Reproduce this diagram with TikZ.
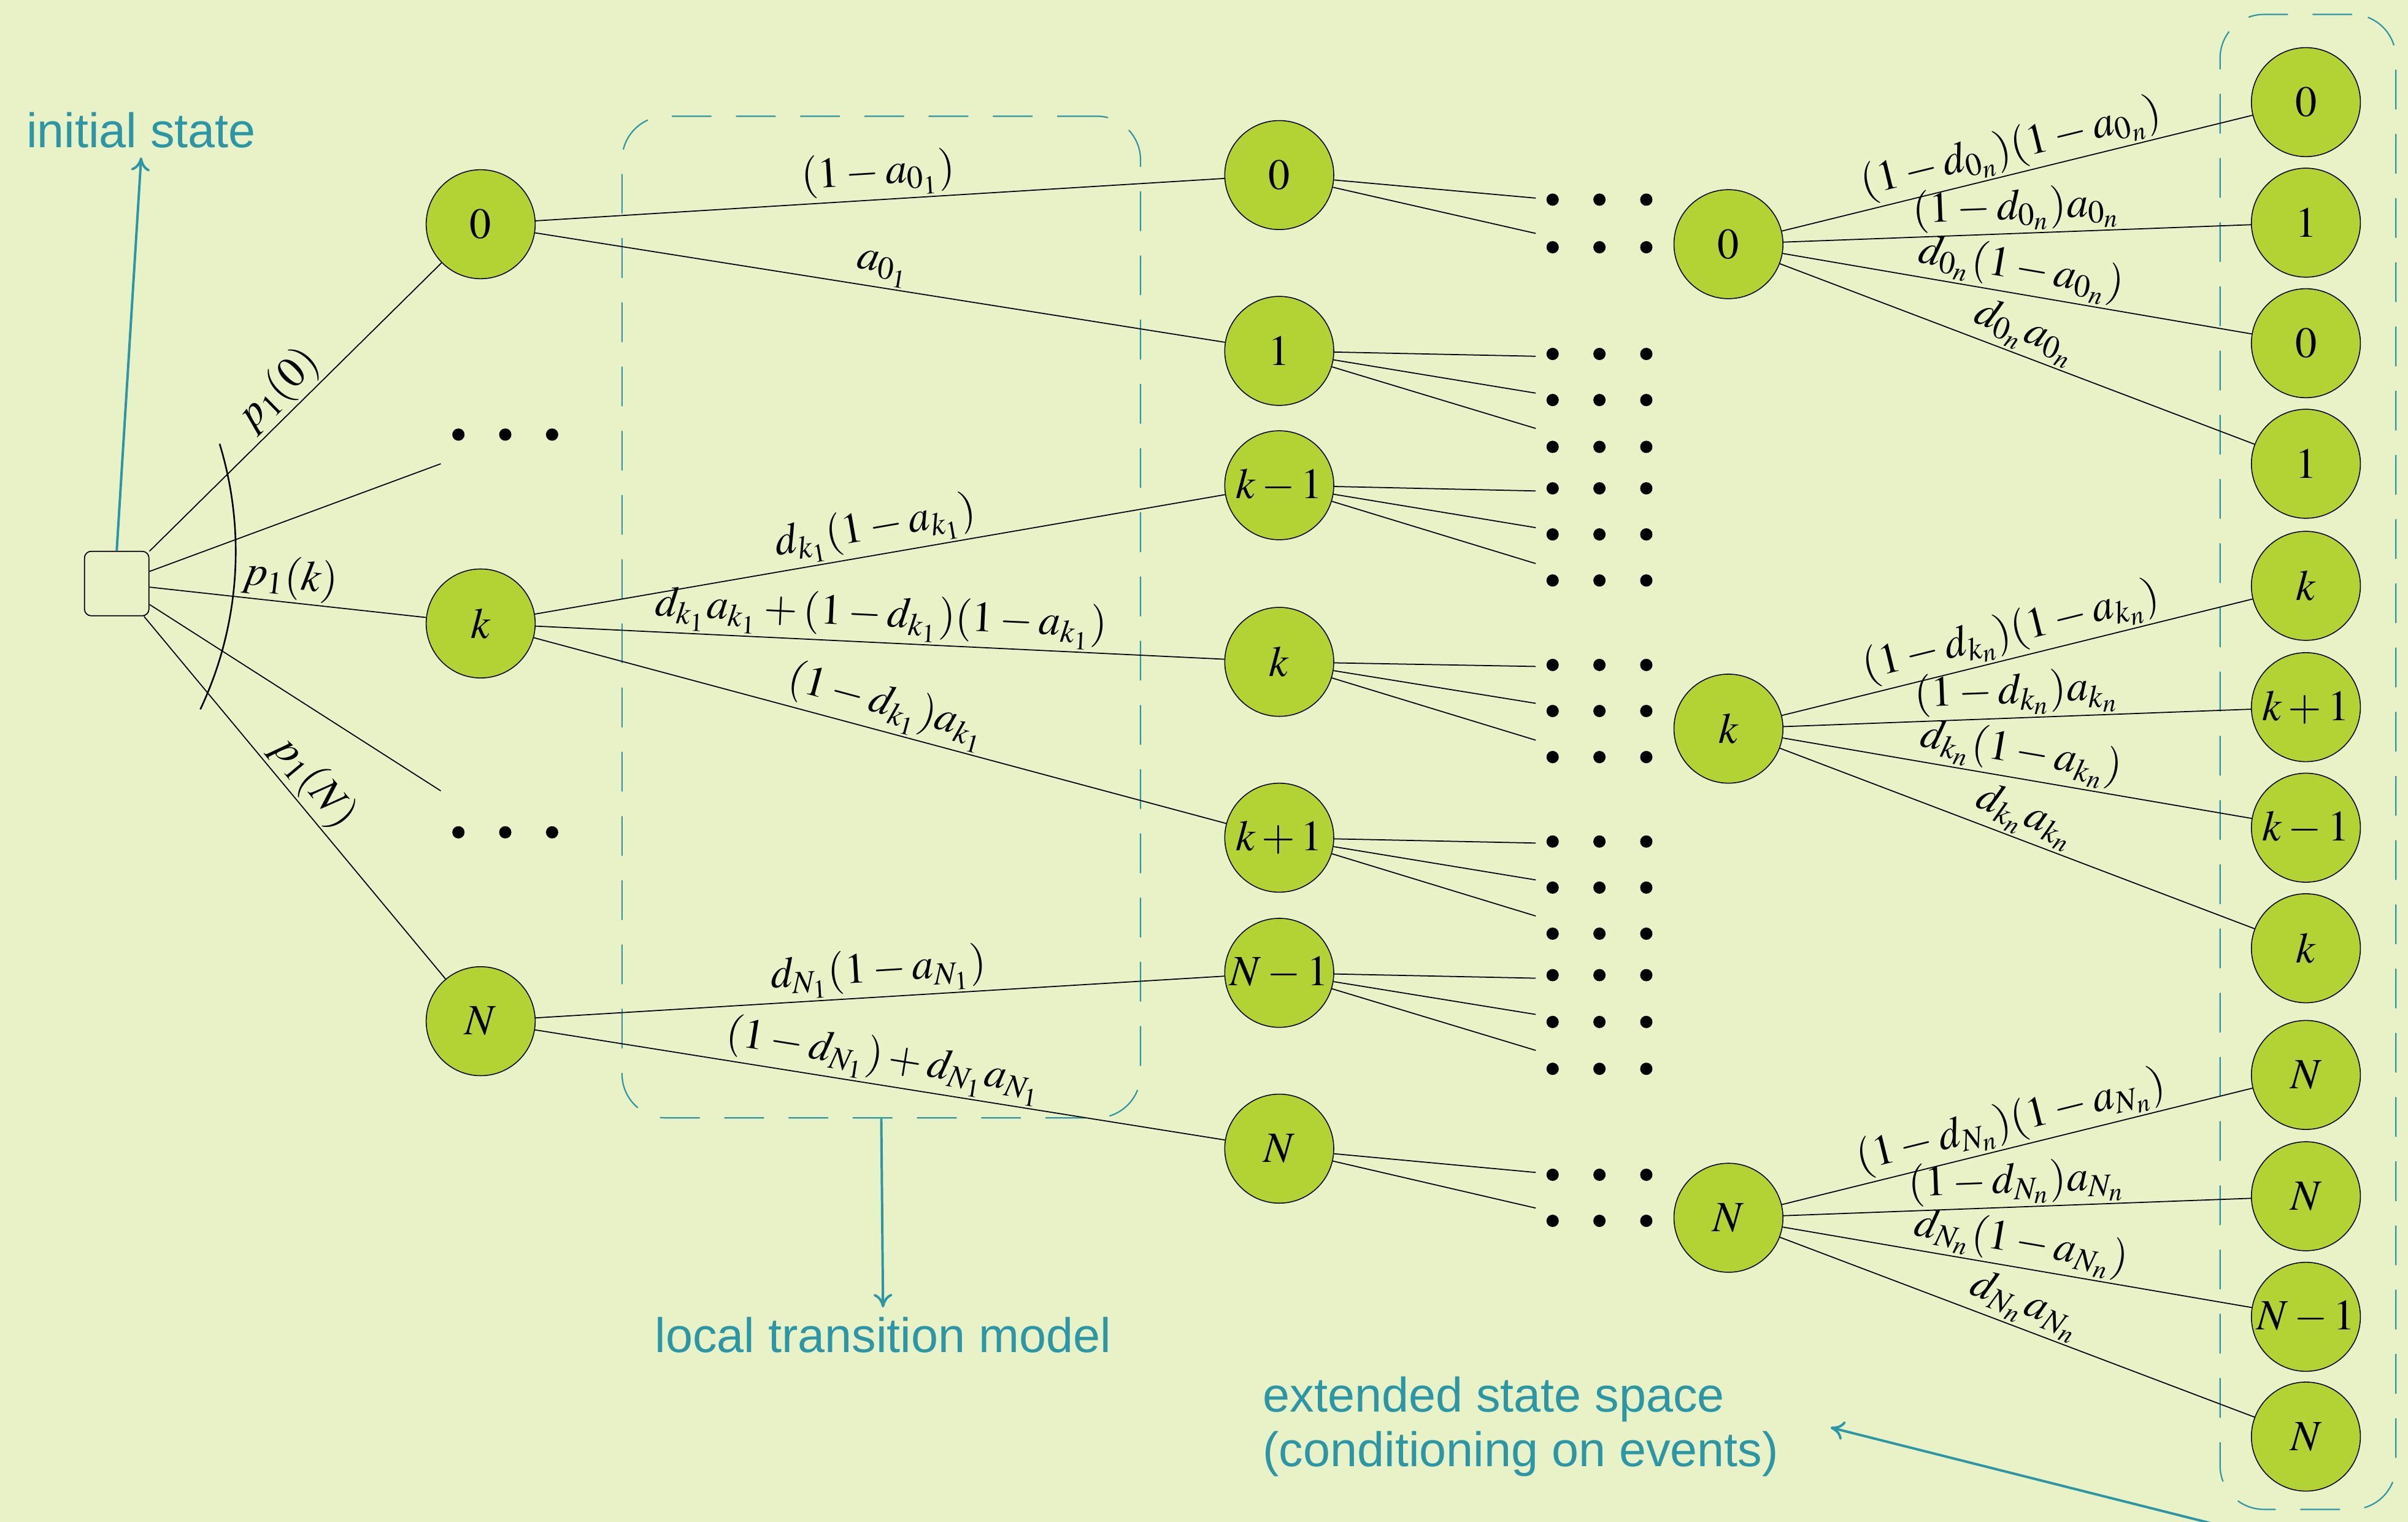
\documentclass[tikz,border=0pt]{standalone}
\usepackage{mathptmx}
\usepackage[no-math]{fontspec}
\newfontfamily\notefont{Liberation Sans}
\usetikzlibrary{arrows.meta}
\definecolor{bgc}{HTML}{E9F2C6}
\definecolor{nodec}{HTML}{B3D334}
\definecolor{tealc}{HTML}{2A96A6}
\begin{document}
\begin{tikzpicture}[x=0.02cm,y=-0.02cm,
  every node/.style={font=\fontsize{16}{19}\selectfont},
  st/.style={circle,draw=black,line width=0.35pt,fill=nodec,minimum size=1.42cm,inner sep=0pt},
  conn/.style={draw=black,line width=0.4pt},
  lbl/.style={midway,above,sloped,inner sep=0.8pt},
  notetxt/.style={text=tealc,font=\notefont\fontsize{18}{20.4}\selectfont},
  grp/.style={draw=tealc,line width=0.5pt,dash pattern=on 14.7pt off 9.1pt,rounded corners=0.57cm,inner sep=0pt},
  ptr/.style={draw=tealc,line width=0.9pt,-{To[length=5pt,width=7pt]}},
  initbox/.style={draw=black,line width=0.4pt,rounded corners=2.5pt,minimum size=0.84cm,inner sep=0pt}
]
\fill[bgc] (0,0) rectangle (1568,991);
\useasboundingbox (0,0) rectangle (1568,991);

% group boxes
\node[grp, minimum width=6.754cm, minimum height=13.048cm] (locbox) at (573.85,401.8) {};
\node[grp, minimum width=2.29cm, minimum height=19.474cm] (extbox) at (1502.85,496.15) {};

% initial state
\node[initbox] (init) at (76,380) {};
\node[notetxt, anchor=base west] (inittxt) at (11,96) {initial state};
\draw[ptr] (init.north) -- (inittxt.south);

% level 1
\node[st] (a0) at (313,146) {$0$};
\node[st] (ak) at (313,406) {$k$};
\node[st] (aN) at (313,665) {$N$};
\coordinate (d1) at (287,302);
\coordinate (d2) at (287,515);
\foreach \x in {298.5,329,359.5} {
  \fill (\x,283) circle[radius=0.08cm];
  \fill (\x,542) circle[radius=0.08cm];
}

\draw[conn] (init) -- node[lbl] {$p_1(0)$} (a0);
\draw[conn] (init) -- (d1);
\draw[conn] (init) -- node[lbl] {$p_1(k)$} (ak);
\draw[conn] (init) -- (d2);
\draw[conn] (init) -- node[lbl] {$p_1(N)$} (aN);
\draw[line width=0.6pt] (143,289) arc[start angle=17, end angle=-25.3, radius=4.806cm];

% level 2
\node[st] (b0) at (833,114) {$0$};
\node[st] (b1) at (833,228.5) {$1$};
\node[st] (bkm) at (833,316) {$k-1$};
\node[st] (bk) at (833,431) {$k$};
\node[st] (bkp) at (833,545.5) {$k+1$};
\node[st] (bNm) at (833,633.5) {$N-1$};
\node[st] (bN) at (833,748) {$N$};

\draw[conn] (a0) -- node[lbl] {$(1-a_{0_1})$} (b0);
\draw[conn] (a0) -- node[lbl] {$a_{0_1}$} (b1);
\draw[conn] (ak) -- node[lbl] {$d_{k_1}(1-a_{k_1})$} (bkm);
\draw[conn] (ak) -- node[lbl] {$d_{k_1}a_{k_1}+(1-d_{k_1})(1-a_{k_1})$} (bk);
\draw[conn] (ak) -- node[lbl] {$(1-d_{k_1})a_{k_1}$} (bkp);
\draw[conn] (aN) -- node[lbl] {$d_{N_1}(1-a_{N_1})$} (bNm);
\draw[conn] (aN) -- node[lbl] {$(1-d_{N_1})+d_{N_1}a_{N_1}$} (bN);

% dot rows
\foreach \y in {130,161,230.5,260.5,291,318,348,378,433,463,493,548,578,608,635,665.5,696,765,795} {
  \foreach \x in {1011,1041.5,1072} {
    \fill (\x,\y) circle[radius=0.08cm];
  }
}
\coordinate (e01) at (1000,129);   \coordinate (e02) at (1000,152);
\coordinate (e11) at (1000,232);   \coordinate (e12) at (1000,256);   \coordinate (e13) at (1000,279);
\coordinate (e21) at (1000,319.7); \coordinate (e22) at (1000,343.6); \coordinate (e23) at (1000,367);
\coordinate (e31) at (1000,434);   \coordinate (e32) at (1000,458);   \coordinate (e33) at (1000,482);
\coordinate (e41) at (1000,549);   \coordinate (e42) at (1000,573);   \coordinate (e43) at (1000,596.5);
\coordinate (e51) at (1000,637);   \coordinate (e52) at (1000,660.6); \coordinate (e53) at (1000,684);
\coordinate (e61) at (1000,763.5); \coordinate (e62) at (1000,786.7);
\draw[conn] (b0) -- (e01); \draw[conn] (b0) -- (e02);
\draw[conn] (b1) -- (e11); \draw[conn] (b1) -- (e12); \draw[conn] (b1) -- (e13);
\draw[conn] (bkm) -- (e21); \draw[conn] (bkm) -- (e22); \draw[conn] (bkm) -- (e23);
\draw[conn] (bk) -- (e31); \draw[conn] (bk) -- (e32); \draw[conn] (bk) -- (e33);
\draw[conn] (bkp) -- (e41); \draw[conn] (bkp) -- (e42); \draw[conn] (bkp) -- (e43);
\draw[conn] (bNm) -- (e51); \draw[conn] (bNm) -- (e52); \draw[conn] (bNm) -- (e53);
\draw[conn] (bN) -- (e61); \draw[conn] (bN) -- (e62);

% level n
\node[st] (c0) at (1125.5,159) {$0$};
\node[st] (ck) at (1125.5,474.5) {$k$};
\node[st] (cN) at (1125.5,793) {$N$};

% extended state space column
\node[st] (r1) at (1501.5,66.5) {$0$};
\node[st] (r2) at (1501.5,145) {$1$};
\node[st] (r3) at (1501.5,223.5) {$0$};
\node[st] (r4) at (1501.5,302) {$1$};
\node[st] (r5) at (1501.5,381.5) {$k$};
\node[st] (r6) at (1501.5,460.5) {$k+1$};
\node[st] (r7) at (1501.5,539) {$k-1$};
\node[st] (r8) at (1501.5,617.5) {$k$};
\node[st] (r9) at (1501.5,700) {$N$};
\node[st] (r10) at (1501.5,779) {$N$};
\node[st] (r11) at (1501.5,857.5) {$N-1$};
\node[st] (r12) at (1501.5,935.5) {$N$};

\draw[conn] (c0) -- node[lbl] {$(1-d_{0_n})(1-a_{0_n})$} (r1);
\draw[conn] (c0) -- node[lbl] {$(1-d_{0_n})a_{0_n}$} (r2);
\draw[conn] (c0) -- node[lbl] {$d_{0_n}(1-a_{0_n})$} (r3);
\draw[conn] (c0) -- node[lbl] {$d_{0_n}a_{0_n}$} (r4);
\draw[conn] (ck) -- node[lbl] {$(1-d_{k_n})(1-a_{k_n})$} (r5);
\draw[conn] (ck) -- node[lbl] {$(1-d_{k_n})a_{k_n}$} (r6);
\draw[conn] (ck) -- node[lbl] {$d_{k_n}(1-a_{k_n})$} (r7);
\draw[conn] (ck) -- node[lbl] {$d_{k_n}a_{k_n}$} (r8);
\draw[conn] (cN) -- node[lbl] {$(1-d_{N_n})(1-a_{N_n})$} (r9);
\draw[conn] (cN) -- node[lbl] {$(1-d_{N_n})a_{N_n}$} (r10);
\draw[conn] (cN) -- node[lbl] {$d_{N_n}(1-a_{N_n})$} (r11);
\draw[conn] (cN) -- node[lbl] {$d_{N_n}a_{N_n}$} (r12);

% annotations
\node[notetxt, anchor=base] (loctxt) at (575,880.5) {local transition model};
\draw[ptr] (locbox.south) -- (loctxt.north);
\node[notetxt, anchor=north west, align=left, inner sep=0pt] (exttxt) at (822,896) {extended state space\\(conditioning on events)};
\coordinate (extfrom) at (1440,992);
\coordinate (exttip) at (1192,929.6);
\draw[ptr] (extfrom) -- (exttip);
\end{tikzpicture}
\end{document}
